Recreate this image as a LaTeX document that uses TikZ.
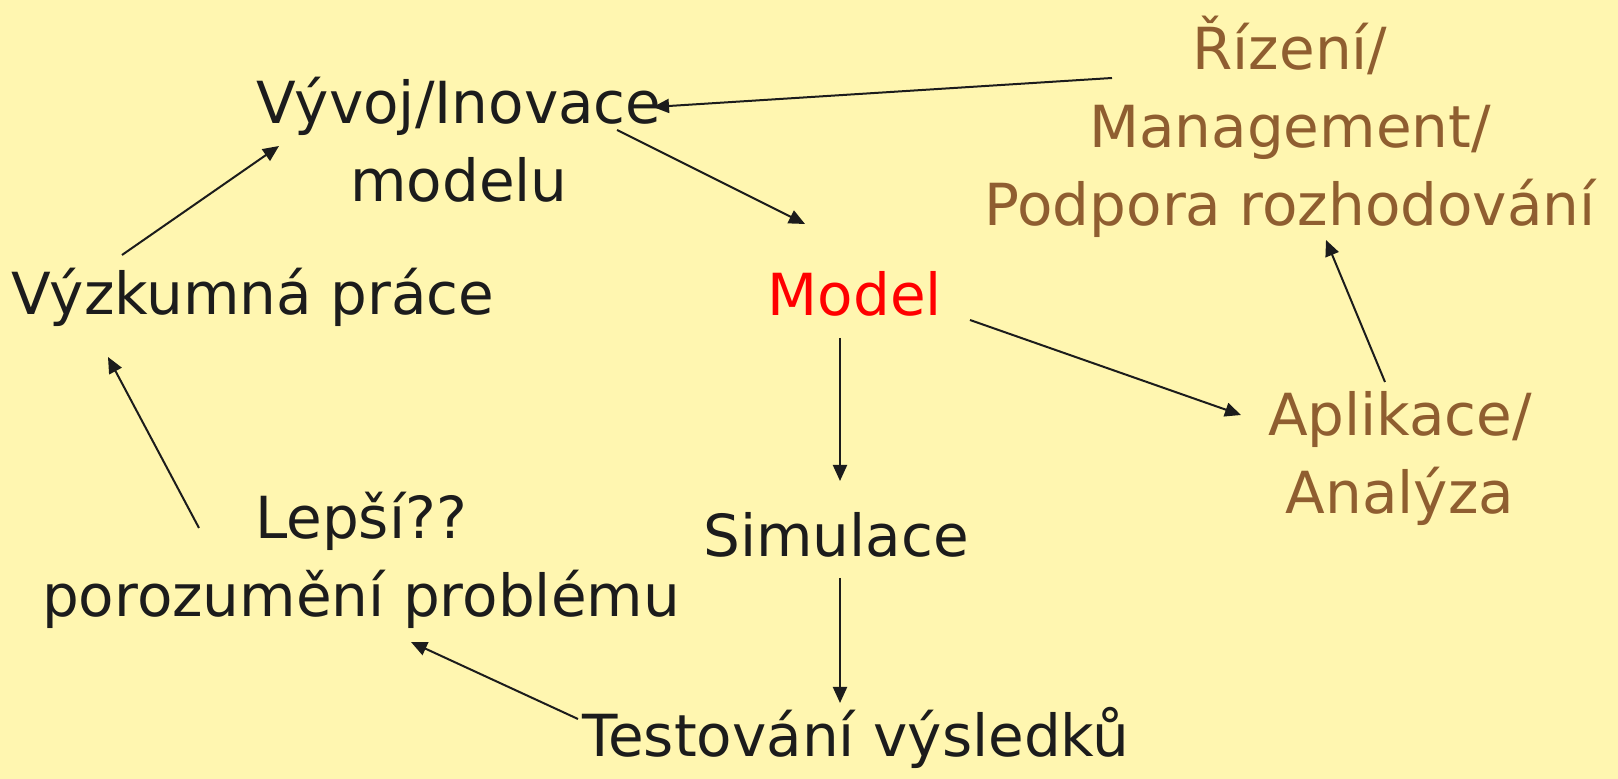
\documentclass[tikz,border=0pt]{standalone}
\usepackage{fontspec}
\setmainfont{DejaVu Sans}
\usetikzlibrary{arrows.meta}
\definecolor{paper}{RGB}{255,246,176}
\definecolor{ink}{RGB}{28,28,28}
\definecolor{bark}{RGB}{143,94,48}
\definecolor{hot}{RGB}{255,0,0}
\tikzset{
  lbl/.style={inner sep=0pt, align=center, text=ink, font=\fontsize{29}{39}\selectfont},
  brownlbl/.style={lbl, text=bark},
  link/.style={draw=ink, line width=1pt, -{Triangle[length=8pt,width=7pt]}}
}
\begin{document}
\begin{tikzpicture}[x=0.5pt,y=-0.5pt]
  \fill[paper] (0,0) rectangle (1618,779);
  \useasboundingbox (0,0) rectangle (1618,779);

  % labels
  \node[lbl] (vyvoj) at (459,140) {Vývoj/Inovace\\modelu};
  \node[lbl] (vyzkum) at (253,297) {Výzkumná práce};
  \node[lbl, text=hot] (model) at (855,294) {Model};
  \node[brownlbl] (rizeni) at (1290,127) {Řízení/\\Management/\\Podpora rozhodování};
  \node[brownlbl] (aplikace) at (1400,459) {Aplikace/\\Analýza};
  \node[lbl] (simulace) at (836,535) {Simulace};
  \node[lbl] (lepsi) at (361,560) {Lepší??\\porozumění problému};
  \node[lbl] (testovani) at (856,738) {Testování výsledků};

  % connector end points
  \coordinate (rizOut) at (1112,78);   \coordinate (vyvIn) at (653,107);
  \coordinate (vyvOut) at (617,130);   \coordinate (modIn) at (805,224);
  \coordinate (vyzOut) at (122,255);   \coordinate (vyvIn2) at (279,146);
  \coordinate (lepOut) at (199,528);   \coordinate (vyzIn) at (108,357);
  \coordinate (modOut) at (840,338);   \coordinate (simIn) at (840,481);
  \coordinate (simOut) at (840,578);   \coordinate (tesIn) at (840,703);
  \coordinate (tesOut) at (578,719);   \coordinate (lepIn) at (411,642);
  \coordinate (modOut2) at (970,320);  \coordinate (aplIn) at (1241,415);
  \coordinate (aplOut) at (1385,382);  \coordinate (rizIn) at (1326,240);

  % connectors
  \draw[link] (rizOut) -- (vyvIn);
  \draw[link] (vyvOut) -- (modIn);
  \draw[link] (vyzOut) -- (vyvIn2);
  \draw[link] (lepOut) -- (vyzIn);
  \draw[link] (modOut) -- (simIn);
  \draw[link] (simOut) -- (tesIn);
  \draw[link] (tesOut) -- (lepIn);
  \draw[link] (modOut2) -- (aplIn);
  \draw[link] (aplOut) -- (rizIn);
\end{tikzpicture}
\end{document}
